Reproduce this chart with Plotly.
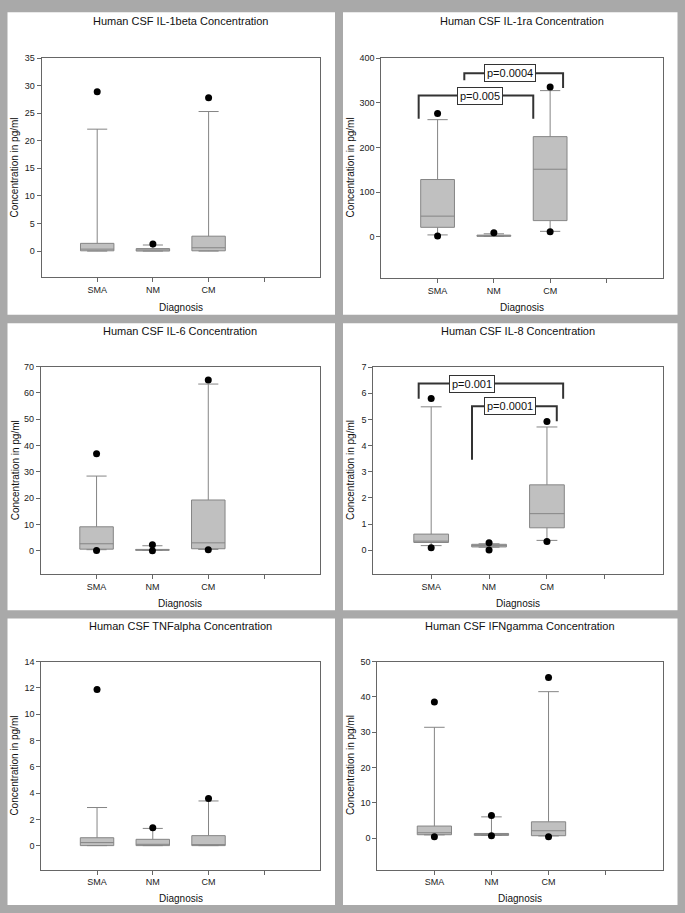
import plotly.graph_objects as go

W, H = 685, 913
categories = ["SMA", "NM", "CM"]
cat_pos = [1, 2, 3]
tick_vals = [1, 2, 3, 4]
tick_text = ["SMA", "NM", "CM", ""]

# ---- IL-1beta ----
il1b_lo = [0.0, 0.0, 0.0]
il1b_q1 = [0.05, 0.0, 0.05]
il1b_med = [0.35, 0.2, 0.6]
il1b_q3 = [1.4, 0.45, 2.7]
il1b_hi = [22.1, 1.1, 25.3]
il1b_out_cat = ["SMA", "NM", "CM"]
il1b_out_val = [28.9, 1.3, 27.8]

# ---- IL-1ra ----
il1ra_lo = [4, 0.5, 12]
il1ra_q1 = [21, 0.8, 36]
il1ra_med = [46, 2, 151]
il1ra_q3 = [128, 3.5, 224]
il1ra_hi = [262, 6.5, 327]
il1ra_out_cat = ["SMA", "SMA", "NM", "CM", "CM"]
il1ra_out_val = [276, 1.5, 9, 335, 11]

# ---- IL-6 ----
il6_lo = [0.4, 0.1, 0.5]
il6_q1 = [0.6, 0.15, 0.75]
il6_med = [2.65, 0.3, 3.0]
il6_q3 = [9.1, 0.5, 19.3]
il6_hi = [28.4, 1.9, 63.4]
il6_out_cat = ["SMA", "SMA", "NM", "NM", "CM", "CM"]
il6_out_val = [36.9, 0.1, 2.3, 0.0, 64.9, 0.35]

# ---- IL-8 ----
il8_lo = [0.18, 0.12, 0.38]
il8_q1 = [0.30, 0.13, 0.86]
il8_med = [0.35, 0.18, 1.4]
il8_q3 = [0.62, 0.23, 2.5]
il8_hi = [5.48, 0.25, 4.71]
il8_out_cat = ["SMA", "SMA", "NM", "NM", "CM", "CM"]
il8_out_val = [5.8, 0.1, 0.29, 0.01, 4.92, 0.34]

# ---- TNFalpha ----
tnf_lo = [0.0, 0.0, 0.0]
tnf_q1 = [0.0, 0.0, 0.0]
tnf_med = [0.23, 0.1, 0.03]
tnf_q3 = [0.6, 0.48, 0.76]
tnf_hi = [2.9, 1.31, 3.4]
tnf_out_cat = ["SMA", "NM", "CM"]
tnf_out_val = [11.88, 1.36, 3.58]

# ---- IFNgamma ----
ifn_lo = [0.9, 0.75, 0.6]
ifn_q1 = [0.94, 0.75, 0.66]
ifn_med = [1.5, 1.2, 2.07]
ifn_q3 = [3.4, 1.3, 4.6]
ifn_hi = [31.4, 6.0, 41.5]
ifn_out_cat = ["SMA", "SMA", "NM", "NM", "CM", "CM"]
ifn_out_val = [38.6, 0.38, 6.4, 0.66, 45.5, 0.38]

# significance brackets: (x_left, x_right, y_top, y_left_end, y_right_end, label_x, label)
il1ra_brackets = [
    (0.664, 2.70, 316, 264, 264, 1.75, "p=0.005"),
    (1.475, 3.23, 366, 350, 333, 2.29, "p=0.0004"),
]
il8_brackets = [
    (0.784, 3.28, 6.37, 5.79, 5.79, 1.71, "p=0.001"),
    (1.705, 3.17, 5.50, 3.46, 4.93, 2.37, "p=0.0001"),
]

titles = [
    "Human CSF IL-1beta Concentration",
    "Human CSF IL-1ra Concentration",
    "Human CSF IL-6 Concentration",
    "Human CSF IL-8 Concentration",
    "Human CSF TNFalpha Concentration",
    "Human CSF IFNgamma Concentration",
]
y_ranges = [[-4.7, 35], [-92, 400], [-8.8, 70], [-0.91, 7], [-1.82, 14], [-8.93, 50]]
y_ticks = [list(range(0, 36, 5)), list(range(0, 401, 100)), list(range(0, 71, 10)),
           list(range(0, 8, 1)), list(range(0, 15, 2)), list(range(0, 51, 10))]

panels = [
    (il1b_lo, il1b_q1, il1b_med, il1b_q3, il1b_hi, il1b_out_cat, il1b_out_val, []),
    (il1ra_lo, il1ra_q1, il1ra_med, il1ra_q3, il1ra_hi, il1ra_out_cat, il1ra_out_val, il1ra_brackets),
    (il6_lo, il6_q1, il6_med, il6_q3, il6_hi, il6_out_cat, il6_out_val, []),
    (il8_lo, il8_q1, il8_med, il8_q3, il8_hi, il8_out_cat, il8_out_val, il8_brackets),
    (tnf_lo, tnf_q1, tnf_med, tnf_q3, tnf_hi, tnf_out_cat, tnf_out_val, []),
    (ifn_lo, ifn_q1, ifn_med, ifn_q3, ifn_hi, ifn_out_cat, ifn_out_val, []),
]

# layout geometry in pixels
plot_x = [(41.5, 320), (381.3, 662.7), (40.7, 320), (373.3, 662.7), (41.3, 320), (377.3, 662.7)]
plot_y = [(53.3, 273.5), (53.3, 274.3), (363.7, 572), (364, 572.3), (660.3, 869.3), (660.3, 869.3)]
panel_cols = [(7.5, 335), (343, 677.5)]
panel_rows = [(7.3, 311.5), (320, 608.5), (617, 905)]
title_y = [16, 328, 624.5]
xtitle_y = [304, 601.5, 898.5]
ytitle_x = [15, 350.5]

def fx(p):
    return p / W

def fy(p):
    return 1 - p / H

FONT = "Liberation Sans, Arial, sans-serif"
fig = go.Figure()
shapes = []
annotations = []

for r in panel_rows:
    for c in panel_cols:
        shapes.append(dict(type="rect", xref="paper", yref="paper", x0=fx(c[0]), x1=fx(c[1]),
                           y0=fy(r[1]), y1=fy(r[0]), fillcolor="white", line=dict(width=0), layer="below"))

cat_to_x = dict(zip(categories, cat_pos))
layout_axes = {}
for i, (lo, q1, med, q3, hi, oc, ov, brs) in enumerate(panels):
    n = i + 1
    xa = "x" if n == 1 else f"x{n}"
    ya = "y" if n == 1 else f"y{n}"
    fig.add_trace(go.Box(
        x=cat_pos, q1=q1, median=med, q3=q3, lowerfence=lo, upperfence=hi,
        width=0.6, whiskerwidth=0.6, boxpoints=False,
        fillcolor="#c0c0c0", line=dict(color="#858585", width=1),
        xaxis=xa, yaxis=ya, showlegend=False, hoverinfo="skip"))
    fig.add_trace(go.Scatter(
        x=[cat_to_x[c] for c in oc], y=ov, mode="markers",
        marker=dict(color="black", size=7), xaxis=xa, yaxis=ya,
        showlegend=False, hoverinfo="skip"))
    xk = "xaxis" if n == 1 else f"xaxis{n}"
    yk = "yaxis" if n == 1 else f"yaxis{n}"
    px0, px1 = plot_x[i]
    py0, py1 = plot_y[i]
    layout_axes[xk] = dict(
        domain=[fx(px0), fx(px1)], range=[0, 5], anchor=ya,
        tickvals=tick_vals, ticktext=tick_text, ticks="outside", ticklen=4,
        tickcolor="#666", showline=True, linecolor="#666", linewidth=1, mirror=True,
        showgrid=False, zeroline=False, tickfont=dict(size=9, family=FONT, color="#222"))
    layout_axes[yk] = dict(
        domain=[fy(py1), fy(py0)], range=y_ranges[i], anchor=xa,
        tickvals=y_ticks[i], ticks="outside", ticklen=4, tickcolor="#666",
        showline=True, linecolor="#666", linewidth=1, mirror=True,
        showgrid=False, zeroline=False, tickfont=dict(size=9, family=FONT, color="#222"))
    row, col = i // 2, i % 2
    cx = (px0 + px1) / 2
    cy = (py0 + py1) / 2
    annotations.append(dict(text=titles[i], x=fx(cx), y=fy(title_y[row]), xref="paper", yref="paper",
                            showarrow=False, xanchor="center", yanchor="middle",
                            font=dict(size=11, family=FONT, color="#111")))
    annotations.append(dict(text="Diagnosis", x=fx(cx), y=fy(xtitle_y[row]), xref="paper", yref="paper",
                            showarrow=False, xanchor="center", yanchor="middle",
                            font=dict(size=10, family=FONT, color="#111")))
    annotations.append(dict(text="Concentration in pg/ml", x=fx(ytitle_x[col]), y=fy(cy),
                            xref="paper", yref="paper", showarrow=False, textangle=-90,
                            xanchor="center", yanchor="middle",
                            font=dict(size=10, family=FONT, color="#111")))
    for (xl, xr, yt, yle, yre, lx, lab) in brs:
        shapes.append(dict(type="path", xref=xa, yref=ya,
                           path=f"M {xl},{yle} L {xl},{yt} L {xr},{yt} L {xr},{yre}",
                           line=dict(color="#333", width=2)))
        annotations.append(dict(text=lab, x=lx, y=yt, xref=xa, yref=ya, showarrow=False,
                                xanchor="center", yanchor="middle", bgcolor="white",
                                bordercolor="#333", borderwidth=1, borderpad=2,
                                font=dict(size=11, family=FONT, color="#111")))

fig.update_layout(
    width=W, height=H, margin=dict(l=0, r=0, t=0, b=0),
    paper_bgcolor="#a9a9a9", plot_bgcolor="rgba(0,0,0,0)",
    shapes=shapes, annotations=annotations, showlegend=False,
    **layout_axes)

fig.write_html("out.html", config={"displayModeBar": False},
               post_script="document.body.style.margin='0';document.body.style.overflow='hidden';")
